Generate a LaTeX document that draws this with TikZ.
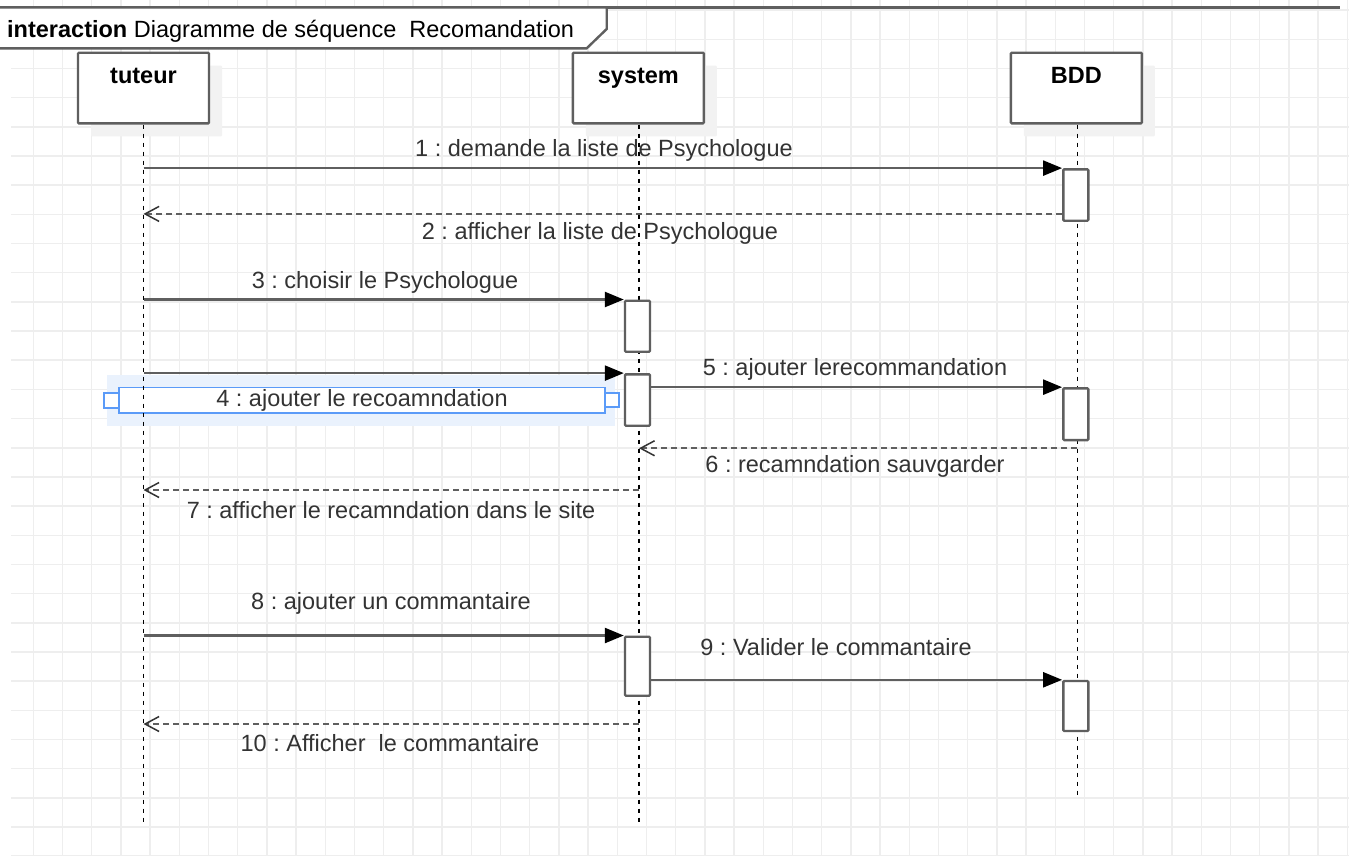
\documentclass[tikz,border=0pt]{standalone}
\usepackage{fontspec}
\setmainfont{Liberation Sans}
\usepackage{tikz}
\usetikzlibrary{arrows.meta,shadows,positioning}

\definecolor{linegray}{HTML}{5F5F5F}
\definecolor{textgray}{HTML}{333333}
\definecolor{gridgray}{HTML}{EEEEEE}
\definecolor{selblue}{HTML}{5B9BF8}
\definecolor{selshade}{HTML}{EAF2FD}

\tikzset{
  gridline/.style={draw=gridgray, line width=1.5pt},
  head/.style={draw=linegray, fill=white, line width=2.4pt, rounded corners=1pt,
    minimum width=131pt, minimum height=70.6pt, inner sep=0pt,
    text height=30.6pt, text depth=40pt, font=\fontsize{23.5}{28}\selectfont\bfseries,
    general shadow={fill=black!5, shadow xshift=13pt, shadow yshift=-13pt}},
  activ/.style={draw=linegray, fill=white, line width=2.4pt, rounded corners=1pt,
    minimum width=25pt, inner sep=0pt},
  lifeline/.style={black, line width=1.6pt, dash pattern=on 4.5pt off 4.5pt},
  msg/.style={draw=linegray, line width=2.4pt,
    -{Triangle[length=19pt,width=15pt,color=black]}},
  ret/.style={draw=linegray, line width=2.2pt, dash pattern=on 6pt off 4pt,
    -{Straight Barb[length=14pt,width=15pt,line width=1.5pt,color=textgray]}},
  msglabel/.style={text=textgray, inner sep=0pt}
}

\begin{document}
\frenchspacing
\begin{tikzpicture}[x=1pt, y=-1pt, font=\fontsize{23.5}{28}\selectfont]
  \useasboundingbox (0,0) rectangle (1349,855);
  \fill[white] (0,0) rectangle (1349,855);

  % grid
  \foreach \i in {0,...,45}
    \draw[gridline] ({33.3+29.2*\i},0) -- ({33.3+29.2*\i},855);
  \foreach \j in {0,...,29}
    \draw[gridline] (11,{10.2+29.17*\j}) -- (1349,{10.2+29.17*\j});

  % frame
  \draw[linegray, line width=2.4pt] (0,7.5) -- (1340,7.5);
  \draw[linegray, line width=2.4pt, fill=white]
    (0,7.5) -- (606.7,7.5) -- (606.7,29) -- (586.7,48.3) -- (0,48.3);
  \node[anchor=base west, inner sep=0pt] (frametitle) at (7,37)
    {\textbf{interaction} Diagramme de séquence\ \ Recomandation};

  % lifeline heads
  \node[head] (tuteur) at (143.5,88) {tuteur};
  \node[head] (system) at (638.4,88) {system};
  \node[head] (bdd) at (1076.4,88) {BDD};

  \coordinate (tuteur-end) at (143.5,822);
  \coordinate (system-end) at (639,822);
  \coordinate (bdd-end) at (1077.3,798);

  % selected label 4
  \fill[selshade] (107,375) rectangle (615,426);
  \draw[selblue, line width=1.5pt, fill=white] (119,387.5) rectangle (605,413);
  \draw[selblue, line width=1.5pt, fill=white] (104,393) rectangle (119,408);
  \draw[selblue, line width=1.5pt, fill=white] (605,393) rectangle (619,407);

  % lifelines
  \draw[lifeline] (tuteur.south -| tuteur-end) -- (tuteur-end);
  \draw[lifeline] (system.south -| system-end) -- (system-end);
  \draw[lifeline] (bdd.south -| bdd-end) -- (bdd-end);

  % activations
  \node[activ, minimum height=51.4pt] (bdd1) at (1075.8,195) {};
  \node[activ, minimum height=51pt] (sys1) at (637.5,326.2) {};
  \node[activ, minimum height=51.4pt] (sys2) at (637.5,400) {};
  \node[activ, minimum height=51.7pt] (bdd2) at (1075.8,414.2) {};
  \node[activ, minimum height=59pt] (sys3) at (637.5,666.2) {};
  \node[activ, minimum height=50pt] (bdd3) at (1075.8,706) {};

  % messages
  \coordinate (r2) at ([yshift=8pt]bdd1.south west);
  \coordinate (r6) at ([yshift=-7pt]bdd2.south -| bdd-end);
  \coordinate (r7) at (639,490);
  \coordinate (r10) at (639,724);

  \draw[msg] (tuteur-end |- bdd1.north west) -- (bdd1.north west);
  \draw[ret] (r2) -- (tuteur-end |- r2);
  \draw[msg] (tuteur-end |- sys1.north west) -- (sys1.north west);
  \draw[msg] (tuteur-end |- sys2.north west) -- (sys2.north west);
  \draw[msg] (sys2.east |- bdd2.north west) -- (bdd2.north west);
  \draw[ret] (r6) -- (system-end |- r6);
  \draw[ret] (r7) -- (tuteur-end |- r7);
  \draw[msg] (tuteur-end |- sys3.north west) -- (sys3.north west);
  \draw[msg] (sys3.east |- bdd3.north west) -- (bdd3.north west);
  \draw[ret] (r10) -- (tuteur-end |- r10);

  % labels
  \node[msglabel] (l1) at (604,150) {1 : demande la liste de Psychologue};
  \node[msglabel] (l2) at (600,233) {2 : afficher la liste de Psychologue};
  \node[msglabel] (l3) at (385,282) {3 : choisir le Psychologue};
  \node[msglabel] (l4) at (362,400) {4 : ajouter le recoamndation};
  \node[msglabel] (l5) at (855,369) {5 : ajouter lerecommandation};
  \node[msglabel] (l6) at (855,466) {6 : recamndation sauvgarder};
  \node[msglabel] (l7) at (391,510) {7 : afficher le recamndation dans le site};
  \node[msglabel] (l8) at (391,603) {8 : ajouter un commantaire};
  \node[msglabel] (l9) at (836,647) {9 : Valider le commantaire};
  \node[msglabel] (l10) at (390,743) {10 : Afficher\ \ le commantaire};
\end{tikzpicture}
\end{document}
